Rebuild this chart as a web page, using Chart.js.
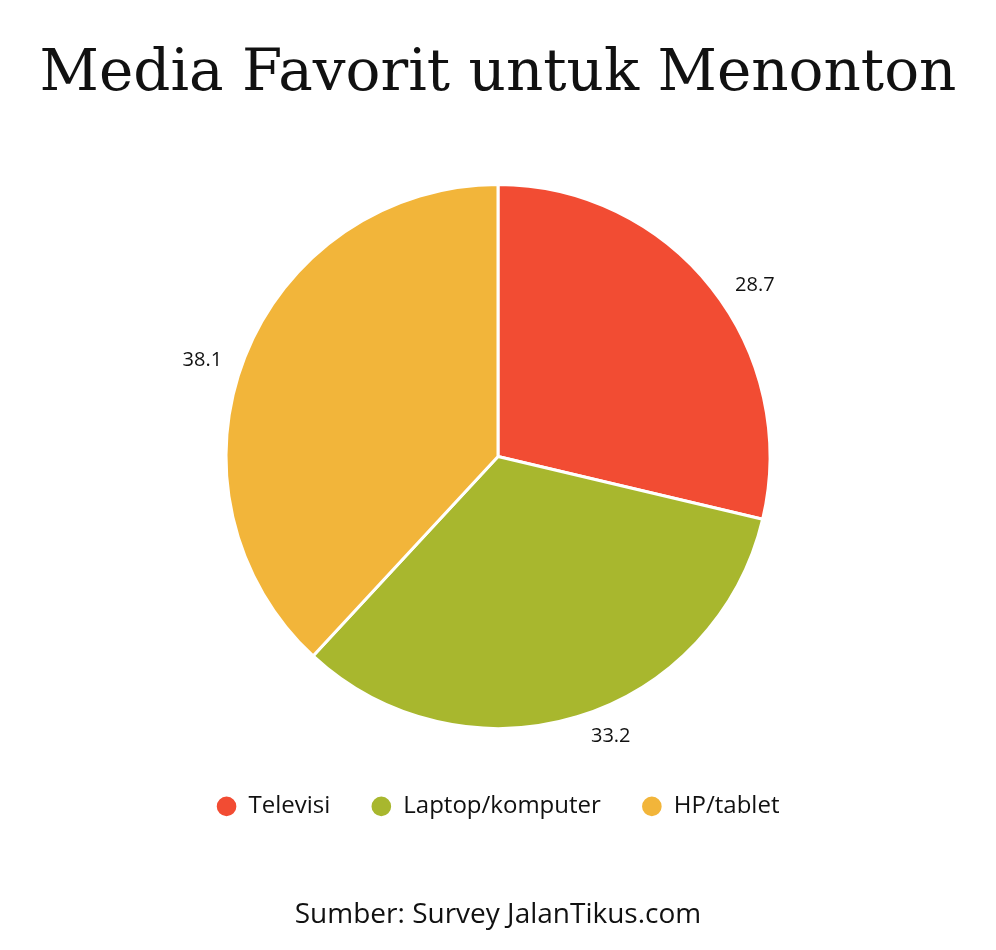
<!DOCTYPE html>
<html>
<head>
<meta charset="utf-8">
<script src="https://cdn.jsdelivr.net/npm/chart.js@4"></script>
<style>
  html, body { margin: 0; padding: 0; background: #fff; }
  #wrap { width: 996px; height: 950px; }
</style>
</head>
<body>
<div id="wrap"><canvas id="pieChart"></canvas></div>
<script>
// Datos del gráfico
const categories = ["Televisi", "Laptop/komputer", "HP/tablet"];
const values = [28.7, 33.2, 38.1];
const colors = ["#F24C33", "#A8B72E", "#F2B53A"];

// Etiquetas de valores fuera del pastel
const outsideLabels = {
  id: "outsideLabels",
  afterDatasetsDraw(chart) {
    const ctx = chart.ctx;
    const meta = chart.getDatasetMeta(0);
    ctx.save();
    ctx.font = "20px 'Open Sans'";
    ctx.fillStyle = "#111";
    meta.data.forEach((arc, i) => {
      const mid = (arc.startAngle + arc.endAngle) / 2;
      const r = arc.outerRadius + 20;
      const px = arc.x + Math.cos(mid) * r;
      const py = arc.y + Math.sin(mid) * r;
      ctx.textAlign = Math.cos(mid) >= 0 ? "left" : "right";
      ctx.textBaseline = Math.sin(mid) < 0 ? "top" : "middle";
      ctx.fillText(values[i].toFixed(1), px + (Math.cos(mid) >= 0 ? 8 : -4), py);
    });
    ctx.restore();
  }
};

document.addEventListener("DOMContentLoaded", function() {
  const ctx = document.getElementById("pieChart").getContext("2d");
  new Chart(ctx, {
    type: "pie",
    data: {
      labels: categories,
      datasets: [{
        data: values,
        backgroundColor: colors,
        borderColor: "#fff",
        borderWidth: 3,
        radius: 272
      }]
    },
    options: {
      responsive: true,
      maintainAspectRatio: false,
      animation: false,
      plugins: {
        title: {
          display: true,
          text: "Media Favorit untuk Menonton",
          color: "#111",
          font: { family: "'DejaVu Serif'", size: 58, weight: "normal" },
          padding: { top: 40, bottom: 50 }
        },
        subtitle: {
          display: true,
          position: "bottom",
          text: "Sumber: Survey JalanTikus.com",
          color: "#111",
          font: { family: "'Open Sans'", size: 28 },
          padding: { top: 70, bottom: 18 }
        },
        legend: {
          position: "bottom",
          labels: {
            usePointStyle: true,
            pointStyle: "circle",
            boxWidth: 20,
            boxHeight: 16,
            padding: 41,
            color: "#111",
            font: { family: "'Open Sans'", size: 24 }
          }
        },
        tooltip: { enabled: false }
      }
    },
    plugins: [outsideLabels]
  });
});
</script>
</body>
</html>
